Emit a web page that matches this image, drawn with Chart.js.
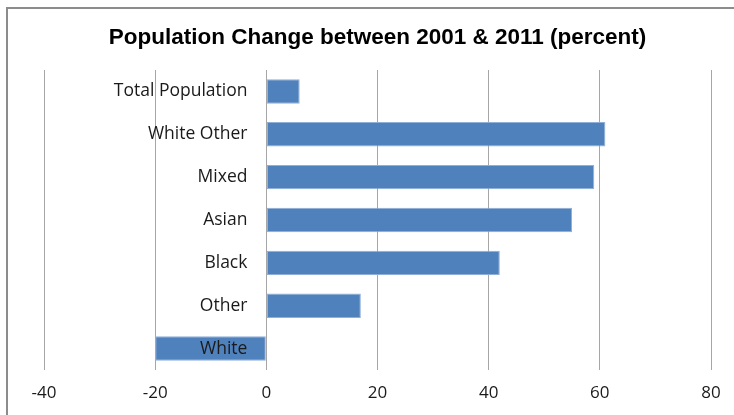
<!DOCTYPE html>
<html>
<head>
<meta charset="utf-8">
<script src="https://cdn.jsdelivr.net/npm/chart.js@4"></script>
<style>
	html, body { margin: 0; padding: 0; background: #fff; overflow: hidden; }
	#wrap { position: relative; width: 734px; height: 415px; }
	#frame { position: absolute; left: 6px; top: 7px; width: 740px; height: 420px; border-left: 2px solid #8c8c8c; border-top: 2px solid #8c8c8c; }
	canvas { position: absolute; left: 0; top: 0; }
</style>
</head>
<body>
<div id="wrap">
	<div id="frame"></div>
	<canvas id="chart" width="734" height="415"></canvas>
</div>
<script>
	// groups, top to bottom
	const groups = ["Total Population", "White Other", "Mixed", "Asian", "Black", "Other", "White"];
	// percent change 2001 -> 2011
	const changePct = [6, 61, 59, 55, 42, 17, -20];
	const xTicks = [-40, -20, 0, 20, 40, 60, 80];

	const labelFont = "'Open Sans', Lato, sans-serif";

	let el = document.getElementById("chart");
	let chart = new Chart(el, {
		type: "bar",
		data: {
			labels: groups,
			datasets: [{
				data: changePct,
				backgroundColor: "#4F81BD",
				borderColor: "#8FAFD8",
				borderWidth: 1,
				borderSkipped: false,
				categoryPercentage: 1,
				barPercentage: 0.57
			}]
		},
		options: {
			indexAxis: "y",
			responsive: false,
			animation: false,
			layout: {
				padding: { left: 44, right: 23, top: 0, bottom: 0 }
			},
			plugins: {
				legend: { display: false },
				tooltip: { enabled: false },
				title: {
					display: true,
					text: "Population Change between 2001 & 2011 (percent)",
					color: "#000",
					font: { family: "'Liberation Sans', sans-serif", size: 22.5, weight: "bold" },
					padding: { top: 24, bottom: 19 }
				}
			},
			scales: {
				x: {
					min: xTicks[0],
					max: xTicks[xTicks.length - 1],
					afterBuildTicks: function(axis) {
						axis.ticks = xTicks.map(v => ({ value: v }));
					},
					afterFit: function(axis) {
						axis.height = 45;
					},
					grid: { color: "#a6a6a6", lineWidth: 1, drawTicks: false },
					border: { display: false },
					ticks: {
						color: "#1a1a1a",
						padding: 13,
						font: { family: labelFont, size: 17 }
					}
				},
				y: {
					// labels sit just left of the zero line, like the original
					position: { x: -3.4 },
					grid: { display: false },
					border: { display: false },
					ticks: {
						z: 1,
						color: "#1a1a1a",
						font: { family: labelFont, size: 17.5 }
					}
				}
			}
		}
	});
</script>
</body>
</html>
